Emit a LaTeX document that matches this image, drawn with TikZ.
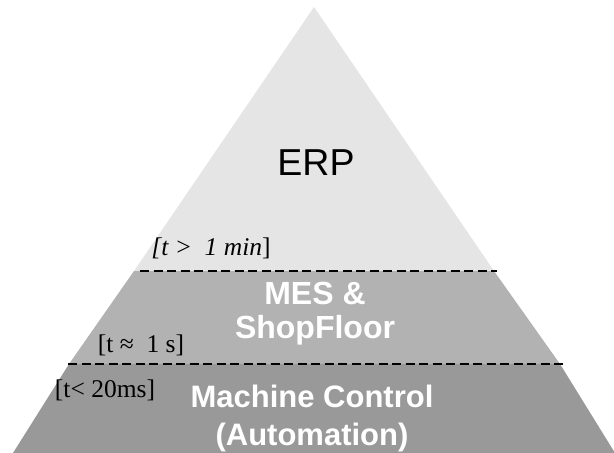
\documentclass[tikz,border=0pt]{standalone}
\usepackage{fontspec}
\setmainfont{Liberation Serif}
\setsansfont{Liberation Sans}
\definecolor{layertop}{gray}{0.90}
\definecolor{layermid}{gray}{0.70}
\definecolor{layerlow}{gray}{0.60}
\begin{document}
\begin{tikzpicture}[x=1pt,y=-1pt,
  divider/.style={line width=2.4pt,dash pattern=on 9pt off 4.5pt},
  biglabel/.style={font=\sffamily\fontsize{37.5}{40}\selectfont,text=black,inner sep=0pt},
  tierlabel/.style={font=\sffamily\bfseries\fontsize{32}{34}\selectfont,text=white,align=center,inner sep=0pt},
  timelabel/.style={font=\fontsize{25.5}{28}\selectfont,text=black,inner sep=0pt}]
\useasboundingbox (0,0) rectangle (614,453);
% corner points of the pyramid
\coordinate (apex) at (314,7);
\coordinate (l1) at (134,271);
\coordinate (r1) at (494,271);
\coordinate (l2) at (69,364);
\coordinate (r2) at (560,364);
\coordinate (bl) at (13,453);
\coordinate (br) at (615,453);
% three tiers
\fill[layertop] (apex) -- (r1) -- (l1) -- cycle;
\fill[layermid] (l1) -- (r1) -- (r2) -- (l2) -- cycle;
\fill[layerlow] (l2) -- (r2) -- (br) -- (bl) -- cycle;
% dashed separators
\coordinate (d1a) at (140,271);
\coordinate (d1b) at (497,271);
\coordinate (d2a) at (68,364);
\coordinate (d2b) at (564,364);
\draw[divider] (d1a) -- (d1b);
\draw[divider] (d2a) -- (d2b);
% tier names
\node[biglabel] (erp) at (316,163) {ERP};
\node[tierlabel] (mes) at (315,314) {MES \&\\ShopFloor};
\node[tierlabel,font=\sffamily\bfseries\fontsize{31}{38}\selectfont] (mc) at (312,418) {Machine Control\\(Automation)};
% response times
\node[timelabel] (t1) at (211,248) {\itshape [t >\ \ 1 min\upshape]};
\node[timelabel] (t2) at (141,345) {[t ≈\ \ 1 s]};
\node[timelabel] (t3) at (105,390) {[t< 20ms]};
\end{tikzpicture}
\end{document}
